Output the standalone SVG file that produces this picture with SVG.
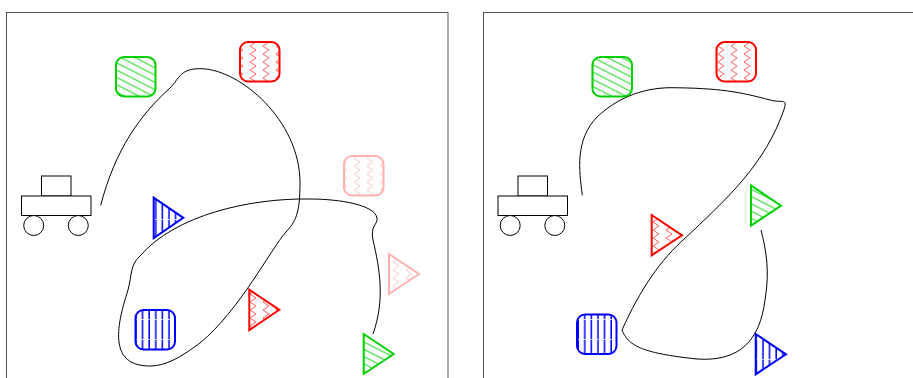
<svg xmlns="http://www.w3.org/2000/svg" width="913" height="378" viewBox="0 0 913 378">
<style>
.frame{fill:none;stroke:#555;stroke-width:1}
.robot{fill:#fff;stroke:#000;stroke-width:1}
.curve{fill:none;stroke:#000;stroke-width:1}
.g{stroke:#00d000;stroke-width:2;fill:url(#pg)}
.r{stroke:#f00;stroke-width:2;fill:url(#pr)}
.b{stroke:#00f;stroke-width:2;fill:url(#pb)}
.p{stroke:#f00;stroke-width:2;fill:url(#pr);opacity:0.3}
</style>
<defs>
<pattern id="pg" patternUnits="userSpaceOnUse" width="6.5" height="6.5" patternTransform="rotate(27)"><rect width="6.5" height="6.5" fill="#fff"/><line x1="0" y1="3" x2="6.5" y2="3" stroke="#00d000" stroke-width="0.9"/></pattern>
<pattern id="pb" patternUnits="userSpaceOnUse" width="6.6" height="20" x="1"><rect width="6.6" height="20" fill="#fff"/><line x1="3" y1="0" x2="3" y2="19.3" stroke="#00f" stroke-width="1.5"/></pattern>
<pattern id="pr" patternUnits="userSpaceOnUse" width="13" height="16" x="0" y="2"><rect width="13" height="16" fill="#fff"/><polyline points="9,0 3,4 9,8 3,12 9,16" fill="none" stroke="#f33" stroke-width="0.8"/></pattern>
</defs>
<rect class="frame" x="6.5" y="12.5" width="441.5" height="380"/>
<rect class="frame" x="483.5" y="12.5" width="441.5" height="380"/>
<g id="robot-left">
<rect class="robot" x="41.5" y="176" width="29.5" height="20"/>
<rect class="robot" x="21.5" y="196" width="69.5" height="19.5"/>
<circle class="robot" cx="33.7" cy="225.5" r="10"/>
<circle class="robot" cx="78.3" cy="225.5" r="10"/>
</g>
<g id="robot-right">
<rect class="robot" x="518" y="176" width="29.5" height="20"/>
<rect class="robot" x="498" y="196" width="69.5" height="19.5"/>
<circle class="robot" cx="510.2" cy="225.5" r="10"/>
<circle class="robot" cx="554.8" cy="225.5" r="10"/>
</g>
<g id="connectors">
<path class="curve" d="M100.7,205.3 C115,150 140,115 170,88 C180,78 180,68 202,68.7 C240,70 300,120 300,183 C300,215 295,222 286,232 C270,250 240,310 200,343 C180,358 165,366 150,366 C110,366 115,330 128,290 C132,275 130,265 140,256 C175,215 250,198 310,199 C340,199 375,205 377,218 C378,225 370,225 373,240 C380,270 385,300 373,334"/>
<path class="curve" d="M582.3,195.3 C579,170 575,140 597,117 C615,100 640,88 670,87.7 C720,88 740,92 770,100 C785,104 790,95 780,120 C760,170 720,205 686.7,236.7 C660,260 640,290 622,330 C628,345 640,353 697,359 C740,362 760,340 765,300 C770,270 766,250 761,230"/>
</g>
<g id="left-green-square"><rect class="g" x="116" y="57" width="39.5" height="39.5" rx="8"/></g>
<g id="left-red-square"><rect class="r" x="240" y="42" width="39.5" height="39.5" rx="8"/></g>
<g id="left-pink-square"><rect class="p" x="344" y="156" width="39.5" height="39.5" rx="8"/></g>
<g id="left-blue-square"><rect class="b" x="135.5" y="310" width="39.5" height="39.5" rx="8"/></g>
<g id="left-blue-triangle"><polygon class="b" points="153.7,197.7 153.7,238 183.3,217.8"/></g>
<g id="left-red-triangle"><polygon class="r" points="249.3,289.7 249.3,330 279.3,309.8"/></g>
<g id="left-pink-triangle"><polygon class="p" points="389,254 389,294 419,274"/></g>
<g id="left-green-triangle"><polygon class="g" points="363.7,334 363.7,374 393.7,354"/></g>
<g id="right-green-square"><rect class="g" x="592.5" y="57" width="39.5" height="39.5" rx="8"/></g>
<g id="right-red-square"><rect class="r" x="716.5" y="42" width="39.5" height="39.5" rx="8"/></g>
<g id="right-blue-square"><rect class="b" x="577" y="314.5" width="39.5" height="39.5" rx="8"/></g>
<g id="right-red-triangle"><polygon class="r" points="651.7,215 651.7,255.3 682,235.3"/></g>
<g id="right-green-triangle"><polygon class="g" points="751,185.5 751,225.7 781,205.7"/></g>
<g id="right-blue-triangle"><polygon class="b" points="755.7,334 755.7,374.3 786,354.3"/></g>
</svg>
